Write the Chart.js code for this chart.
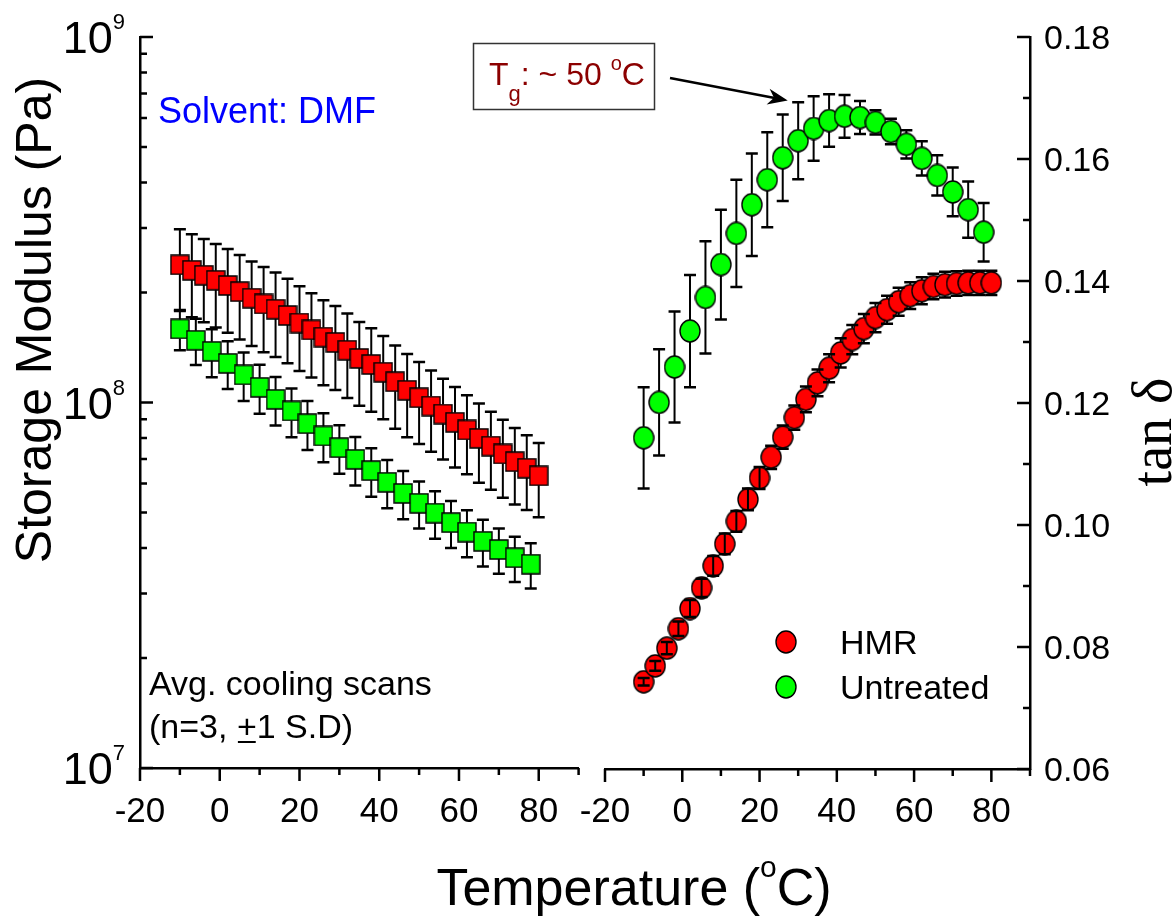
<!DOCTYPE html>
<html>
<head>
<meta charset="utf-8">
<script src="https://cdn.jsdelivr.net/npm/chart.js@4.4.1/dist/chart.umd.min.js"></script>
<style>
  html, body { margin: 0; padding: 0; background: #fff; }
  #wrap { position: relative; width: 1174px; height: 920px; }
  #wrap canvas { position: absolute; left: 0; top: 0; }
</style>
</head>
<body>
<div id="wrap">
  <canvas id="chartMod" width="1174" height="920"></canvas>
  <canvas id="chartTan" width="1174" height="920"></canvas>
</div>
<script>
// ── data ────────────────────────────────────────────────────────────────────
// temperatures (°C)
const tempHMR = [-10, -7, -4, -1, 2, 5, 8, 11, 14, 17, 20, 23, 26, 29, 32, 35,
                 38, 41, 44, 47, 50, 53, 56, 59, 62, 65, 68, 71, 74, 77, 80];
const tempUnt = [-10, -6, -2, 2, 6, 10, 14, 18, 22, 26, 30, 34, 38, 42, 46, 50,
                 54, 58, 62, 66, 70, 74, 78];

// storage modulus (Pa) and SD
const modHMR   = [2.38e8, 2.30e8, 2.23e8, 2.16e8, 2.09e8, 2.01e8, 1.93e8, 1.86e8, 1.80e8, 1.73e8,
                  1.65e8, 1.58e8, 1.51e8, 1.46e8, 1.39e8, 1.32e8, 1.27e8, 1.21e8, 1.14e8, 1.08e8,
                  1.03e8, 9.78e7, 9.30e7, 8.83e7, 8.41e7, 7.98e7, 7.60e7, 7.23e7, 6.89e7, 6.61e7, 6.30e7];
const modHMRsd = [6.00e7, 5.88e7, 5.72e7, 5.56e7, 5.39e7, 5.23e7, 5.02e7, 4.87e7, 4.68e7, 4.50e7,
                  4.31e7, 4.10e7, 3.95e7, 3.78e7, 3.62e7, 3.40e7, 3.27e7, 3.10e7, 2.92e7, 2.77e7,
                  2.60e7, 2.45e7, 2.32e7, 2.19e7, 2.05e7, 1.95e7, 1.83e7, 1.74e7, 1.63e7, 1.53e7, 1.45e7];
const modUnt   = [1.59e8, 1.48e8, 1.38e8, 1.28e8, 1.19e8, 1.10e8, 1.02e8, 9.48e7, 8.75e7, 8.10e7,
                  7.52e7, 6.99e7, 6.51e7, 6.05e7, 5.64e7, 5.30e7, 4.98e7, 4.69e7, 4.42e7, 4.17e7,
                  3.96e7, 3.76e7, 3.61e7];
const modUntSd = [2.01e7, 2.14e7, 2.07e7, 1.92e7, 1.81e7, 1.68e7, 1.55e7, 1.45e7, 1.34e7, 1.24e7,
                  1.14e7, 1.06e7, 9.9e6, 9.1e6, 8.5e6, 7.8e6, 7.4e6, 6.9e6, 6.5e6, 6.1e6,
                  5.6e6, 5.3e6, 5.1e6];

// tan delta and SD
const tanHMR   = [0.0743, 0.0769, 0.0798, 0.0830, 0.0863, 0.0897, 0.0933, 0.0969, 0.1006, 0.1042,
                  0.1077, 0.1111, 0.1144, 0.1176, 0.1206, 0.1233, 0.1257, 0.1282, 0.1304, 0.1322,
                  0.1340, 0.1353, 0.1366, 0.1376, 0.1384, 0.1391, 0.1394, 0.1396, 0.1397, 0.1397, 0.1397];
const tanHMRsd = [0.0006, 0.0008, 0.0010, 0.0012, 0.0014, 0.0015, 0.0016, 0.0017, 0.0017, 0.0018,
                  0.0018, 0.0019, 0.0019, 0.0020, 0.0021, 0.0022, 0.0023, 0.0024, 0.0024, 0.0024,
                  0.0024, 0.0023, 0.0023, 0.0022, 0.0022, 0.0021, 0.0021, 0.0020, 0.0020, 0.0020, 0.0020];
const tanUnt   = [0.1143, 0.1201, 0.1259, 0.1318, 0.1373, 0.1427, 0.1478, 0.1525, 0.1566, 0.1602,
                  0.1630, 0.1650, 0.1663, 0.1670, 0.1668, 0.1660, 0.1645, 0.1624, 0.1601, 0.1573,
                  0.1546, 0.1517, 0.1480];
const tanUntSd = [0.0083, 0.0087, 0.0091, 0.0092, 0.0092, 0.0090, 0.0088, 0.0084, 0.0078, 0.0071,
                  0.0063, 0.0053, 0.0043, 0.0035, 0.0027, 0.0020, 0.0021, 0.0023, 0.0028, 0.0033,
                  0.0040, 0.0046, 0.0048];

// ticks
const tempTicks  = [-20, -10, 0, 10, 20, 30, 40, 50, 60, 70, 80, 90];
const tempLabels = [-20, 0, 20, 40, 60, 80];
const modTicks   = [1e7, 2e7, 3e7, 4e7, 5e7, 6e7, 7e7, 8e7, 9e7,
                    1e8, 2e8, 3e8, 4e8, 5e8, 6e8, 7e8, 8e8, 9e8, 1e9];
const modLabels  = [[1e7, '7'], [1e8, '8'], [1e9, '9']];
const tanTicks   = [0.06, 0.07, 0.08, 0.09, 0.10, 0.11, 0.12, 0.13, 0.14, 0.15, 0.16, 0.17, 0.18];
const tanLabels  = [0.06, 0.08, 0.10, 0.12, 0.14, 0.16, 0.18];

// ── helpers ─────────────────────────────────────────────────────────────────
const SANS = '"Liberation Sans", Arial, sans-serif';
const SERIF = '"Liberation Serif", "Times New Roman", serif';
const RED = '#ff0000', GREEN = '#00ff00';

function marker(kind, fill) {
  const c = document.createElement('canvas');
  const w = kind === 'square' ? 20 : 22, h = kind === 'square' ? 21 : 24;
  c.width = w; c.height = h;
  const g = c.getContext('2d');
  g.fillStyle = fill; g.strokeStyle = '#000'; g.lineWidth = 1.4;
  g.beginPath();
  if (kind === 'square') g.rect(1, 1, w - 2, h - 2);
  else g.ellipse(w / 2, h / 2, w / 2 - 1, h / 2 - 1, 0, 0, Math.PI * 2);
  g.fill(); g.stroke();
  return c;
}

// text built from runs: [text, size, rise, family]
function runs(ctx, parts, x, y, align, color) {
  ctx.save();
  ctx.fillStyle = color || '#000';
  ctx.textBaseline = 'alphabetic';
  ctx.textAlign = 'left';
  let w = 0;
  parts.forEach(p => { ctx.font = p[1] + 'px ' + (p[3] || SANS); w += ctx.measureText(p[0]).width; });
  let cx = align === 'center' ? x - w / 2 : align === 'right' ? x - w : x;
  const pos = [];
  parts.forEach(p => {
    ctx.font = p[1] + 'px ' + (p[3] || SANS);
    const pw = ctx.measureText(p[0]).width;
    ctx.fillText(p[0], cx, y - (p[2] || 0));
    pos.push([cx, pw]);
    cx += pw;
  });
  ctx.restore();
  return pos;
}

function errBars(chart, xs, ys, sds, halfH) {
  const { ctx, scales: { x, y } } = chart;
  ctx.save();
  ctx.strokeStyle = '#000';
  xs.forEach((t, i) => {
    const px = x.getPixelForValue(t), py = y.getPixelForValue(ys[i]);
    const ends = [y.getPixelForValue(ys[i] + sds[i]), y.getPixelForValue(ys[i] - sds[i])];
    ctx.lineWidth = 2;
    ctx.beginPath();
    ends.forEach(e => {
      const dir = e < py ? -1 : 1;
      ctx.moveTo(px, Math.abs(e - py) > halfH ? py + dir * halfH : py);
      ctx.lineTo(px, e);
    });
    ctx.stroke();
    ctx.lineWidth = 2.5;
    ctx.beginPath();
    ends.forEach(e => { ctx.moveTo(px - 6, e); ctx.lineTo(px + 6, e); });
    ctx.stroke();
  });
  ctx.restore();
}

function xAxisDeco(chart) {
  const { ctx, scales: { x }, chartArea } = chart;
  ctx.save();
  ctx.strokeStyle = '#000'; ctx.lineWidth = 2.5;
  ctx.beginPath();
  tempTicks.forEach(v => {
    const px = x.getPixelForValue(v);
    ctx.moveTo(px, chartArea.bottom); ctx.lineTo(px, chartArea.bottom + (v % 20 === 0 ? 13 : 7));
  });
  ctx.stroke();
  ctx.restore();
  tempLabels.forEach(v => runs(ctx, [[String(v), 35]], x.getPixelForValue(v), 822, 'center'));
}

function baseOpts() {
  return {
    responsive: false, animation: false, devicePixelRatio: 1,
    events: [],
    plugins: { legend: { display: false }, tooltip: { enabled: false } },
  };
}
const plainAxis = { ticks: { display: false }, grid: { display: false, drawTicks: false },
                    border: { display: true, color: '#000', width: 2.5 } };

// ── storage modulus panel ───────────────────────────────────────────────────
const sqRed = marker('square', RED), sqGreen = marker('square', GREEN);

new Chart(document.getElementById('chartMod'), {
  type: 'scatter',
  data: {
    datasets: [
      { label: 'HMR', data: tempHMR.map((t, i) => ({ x: t, y: modHMR[i] })), pointStyle: sqRed, pointRadius: 10 },
      { label: 'Untreated', data: tempUnt.map((t, i) => ({ x: t, y: modUnt[i] })), pointStyle: sqGreen, pointRadius: 10 },
    ],
  },
  options: {
    ...baseOpts(),
    layout: { padding: { left: 0, top: 37, right: 1174 - 578.6, bottom: 0 } },
    scales: {
      x: { ...plainAxis, type: 'linear', position: 'bottom', min: -20, max: 90,
           afterFit: s => { s.height = 152; } },
      y: { ...plainAxis, type: 'logarithmic', position: 'left', min: 1e7, max: 1e9,
           afterFit: s => { s.width = 140; } },
    },
  },
  plugins: [{
    id: 'modDeco',
    afterDatasetsDraw(chart) {
      errBars(chart, tempHMR, modHMR, modHMRsd, 9.5);
      errBars(chart, tempUnt, modUnt, modUntSd, 9.5);
    },
    afterDraw(chart) {
      const { ctx, scales: { y }, chartArea } = chart;
      xAxisDeco(chart);
      // inward ticks on log axis
      ctx.save();
      ctx.strokeStyle = '#000'; ctx.lineWidth = 2.5;
      ctx.beginPath();
      modTicks.forEach(v => {
        const py = y.getPixelForValue(v);
        const major = modLabels.some(l => l[0] === v);
        ctx.moveTo(chartArea.left, py); ctx.lineTo(chartArea.left + (major ? 13 : 7), py);
      });
      ctx.stroke();
      ctx.restore();
      modLabels.forEach(([v, e]) => {
        const py = y.getPixelForValue(v);
        runs(ctx, [['10', 45], [e, 22, 24]], 125, py + 16, 'right');
      });
      // axis title
      ctx.save();
      ctx.translate(51, 320); ctx.rotate(-Math.PI / 2);
      runs(ctx, [['Storage Modulus (Pa)', 50]], 0, 0, 'center');
      ctx.restore();
      // notes
      runs(ctx, [['Solvent: DMF', 36]], 158, 123, 'left', '#0000ff');
      runs(ctx, [['Avg. cooling scans', 34]], 149, 695, 'left');
      const p = runs(ctx, [['(n=3, ', 34], ['+', 34], ['1 S.D)', 34]], 149, 738, 'left');
      ctx.save();
      ctx.strokeStyle = '#000'; ctx.lineWidth = 2;
      ctx.beginPath(); ctx.moveTo(p[1][0] + 1, 742); ctx.lineTo(p[1][0] + p[1][1] - 1, 742); ctx.stroke();
      ctx.restore();
    },
  }],
});

// ── tan delta panel ─────────────────────────────────────────────────────────
const ciRed = marker('circle', RED), ciGreen = marker('circle', GREEN);

new Chart(document.getElementById('chartTan'), {
  type: 'scatter',
  data: {
    datasets: [
      { label: 'HMR', data: tempHMR.map((t, i) => ({ x: t, y: tanHMR[i] })), pointStyle: ciRed, pointRadius: 11 },
      { label: 'Untreated', data: tempUnt.map((t, i) => ({ x: t, y: tanUnt[i] })), pointStyle: ciGreen, pointRadius: 11 },
    ],
  },
  options: {
    ...baseOpts(),
    layout: { padding: { left: 605, top: 37, right: 0, bottom: 0 } },
    scales: {
      x: { ...plainAxis, type: 'linear', position: 'bottom', min: -20, max: 90,
           afterFit: s => { s.height = 151; } },
      y: { ...plainAxis, type: 'linear', position: 'right', min: 0.06, max: 0.18,
           afterFit: s => { s.width = 144; } },
    },
  },
  plugins: [{
    id: 'tanDeco',
    afterDatasetsDraw(chart) {
      errBars(chart, tempHMR, tanHMR, tanHMRsd, 11);
      errBars(chart, tempUnt, tanUnt, tanUntSd, 11);
    },
    afterDraw(chart) {
      const { ctx, scales: { x, y }, chartArea } = chart;
      xAxisDeco(chart);
      ctx.save();
      ctx.strokeStyle = '#000'; ctx.lineWidth = 2.5;
      ctx.beginPath();
      tanTicks.forEach(v => {
        const py = y.getPixelForValue(v);
        const major = tanLabels.some(l => Math.abs(l - v) < 1e-9);
        ctx.moveTo(chartArea.right, py); ctx.lineTo(chartArea.right - (major ? 13 : 7), py);
      });
      ctx.stroke();
      ctx.restore();
      tanLabels.forEach(v => runs(ctx, [[v.toFixed(2), 34]], chartArea.right + 14, y.getPixelForValue(v) + 12, 'left'));
      // right axis title
      ctx.save();
      ctx.translate(1171, 432); ctx.rotate(-Math.PI / 2);
      runs(ctx, [['tan \u03b4', 56, 0, SERIF]], 0, 0, 'center');
      ctx.restore();
      // shared x title
      runs(ctx, [['Temperature (', 52], ['o', 30, 28], ['C)', 52]], 634, 905, 'center');
      // legend
      chart.data.datasets.forEach((ds, i) => {
        const cy = 642 + i * 45;
        ctx.drawImage(ds.pointStyle, 786 - ds.pointStyle.width / 2, cy - ds.pointStyle.height / 2);
        runs(ctx, [[ds.label, 34]], 840, cy + 12, 'left');
      });
      // Tg annotation
      ctx.save();
      ctx.strokeStyle = '#333'; ctx.lineWidth = 1.5;
      ctx.strokeRect(473.5, 43.5, 181, 66);
      ctx.restore();
      runs(ctx, [['T', 32], ['g', 22, -16], [': ~ 50 ', 32], ['o', 20, 15], ['C', 32]], 489, 85, 'left', '#8b0000');
      const tx = x.getPixelForValue(27.3), ty = y.getPixelForValue(0.1696);
      const sx = 670, sy = 78;
      const ang = Math.atan2(ty - sy, tx - sx);
      ctx.save();
      ctx.strokeStyle = '#000'; ctx.fillStyle = '#000'; ctx.lineWidth = 2.5;
      ctx.beginPath(); ctx.moveTo(sx, sy);
      ctx.lineTo(tx - 12 * Math.cos(ang), ty - 12 * Math.sin(ang)); ctx.stroke();
      ctx.translate(tx, ty); ctx.rotate(ang);
      ctx.beginPath(); ctx.moveTo(0, 0); ctx.lineTo(-20, -8); ctx.lineTo(-14, 0); ctx.lineTo(-20, 8);
      ctx.closePath(); ctx.fill();
      ctx.restore();
    },
  }],
});
</script>
</body>
</html>
